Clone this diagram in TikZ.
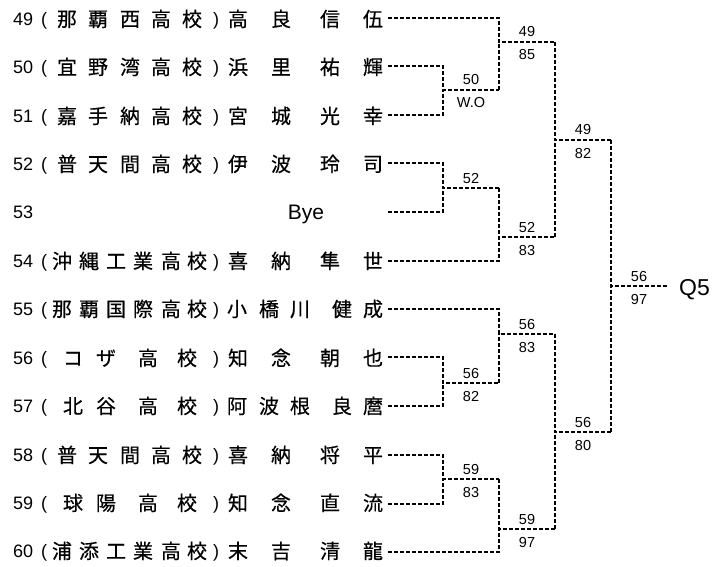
\documentclass[tikz,border=0pt]{standalone}
\usepackage{fontspec}
\setmainfont{Liberation Sans}
\newfontfamily\jp[FakeBold=0.4]{Noto Sans CJK JP}
\newcommand\entry[7]{%
  \node[num] (n#2) at (13,#1+6.5) {#2};
  \node[num,anchor=base] (lp#2) at (44,#1+6.5) {(};
  \node[num,anchor=base] (rp#2) at (216,#1+6.5) {)};
  \foreach \c [count=\i] in {#4} {\pgfmathsetmacro\xx{{#3}[\i-1]}\node[cj] (s#2-\i) at (\xx,#1+7.5) {\c};}
  \foreach \c [count=\i] in {#6} {\pgfmathsetmacro\xx{{#5}[\i-1]}\node[cj] (w#2-\i) at (\xx,#1+7.5) {\c};}
  \coordinate (p#2) at (388,#7);
}
\newcommand\score[5]{%
  \node[lab] (#1a) at (#2,#3-5) {#4};
  \node[lab] (#1b) at (#2,#3+18) {#5};
}
\begin{document}
\begin{tikzpicture}[x=1pt,y=-1pt,
  cj/.style={inner sep=0,anchor=base,font=\jp\fontsize{20}{20}\selectfont},
  num/.style={inner sep=0,anchor=base west,font=\fontsize{18}{18}\selectfont},
  lab/.style={inner sep=0,anchor=base,font=\fontsize{14.5}{14.5}\selectfont},
  br/.style={line width=1.4pt,dash pattern=on 4pt off 2pt}]
\useasboundingbox (0,0) rectangle (728,567);
\fill[white] (0,0) rectangle (728,567);

\entry{19}{49}{67,98,130,161,192}{那,覇,西,高,校}{238,281,330,373}{高,良,信,伍}{18}
\entry{67}{50}{67,98,130,161,192}{宜,野,湾,高,校}{238,281,330,373}{浜,里,祐,輝}{66}
\entry{116}{51}{67,98,130,161,192}{嘉,手,納,高,校}{238,281,330,373}{宮,城,光,幸}{115}
\entry{164}{52}{67,98,130,161,192}{普,天,間,高,校}{238,281,330,373}{伊,波,玲,司}{163}
\node[num] (n53) at (13,218.5) {53};
\node[num,anchor=base,font=\fontsize{21}{21}\selectfont] (bye) at (306,219.5) {Bye};
\coordinate (p53) at (388,212);
\entry{261}{54}{62,89,116,143,171,197}{沖,縄,工,業,高,校}{238,281,330,373}{喜,納,隼,世}{261}
\entry{309}{55}{62,89,116,143,171,197}{那,覇,国,際,高,校}{237,269,300,342,373}{小,橋,川,健,成}{309}
\entry{358}{56}{73,106,148,187}{コ,ザ,高,校}{238,281,330,373}{知,念,朝,也}{357}
\entry{406}{57}{73,106,148,187}{北,谷,高,校}{237,269,300,342,373}{阿,波,根,良,麿}{406}
\entry{455}{58}{67,98,130,161,192}{普,天,間,高,校}{238,281,330,373}{喜,納,将,平}{455}
\entry{503}{59}{73,106,148,187}{球,陽,高,校}{238,281,330,373}{知,念,直,流}{504}
\entry{551}{60}{62,89,116,143,171,197}{浦,添,工,業,高,校}{238,281,330,373}{末,吉,清,龍}{552}

% junctions
\coordinate (j1) at (443,90);  \coordinate (j1o) at (499,90);
\coordinate (j2) at (443,188); \coordinate (j2o) at (499,188);
\coordinate (j3) at (443,383); \coordinate (j3o) at (499,383);
\coordinate (j4) at (443,479); \coordinate (j4o) at (499,479);
\coordinate (j5) at (499,42);  \coordinate (j5o) at (555,42);
\coordinate (j6) at (499,237); \coordinate (j6o) at (555,237);
\coordinate (j7) at (499,334); \coordinate (j7o) at (555,334);
\coordinate (j8) at (499,529); \coordinate (j8o) at (555,529);
\coordinate (j9) at (555,140); \coordinate (j9o) at (611,140);
\coordinate (j10) at (555,432); \coordinate (j10o) at (611,432);
\coordinate (j11) at (611,286); \coordinate (fin) at (667,286);

\draw[br] (p50) -| (j1) -- (j1o); \draw[br] (p51) -| (j1);
\draw[br] (p52) -| (j2) -- (j2o); \draw[br] (p53) -| (j2);
\draw[br] (p56) -| (j3) -- (j3o); \draw[br] (p57) -| (j3);
\draw[br] (p58) -| (j4) -- (j4o); \draw[br] (p59) -| (j4);
\draw[br] (p49) -| (j5) -- (j5o); \draw[br] (j1o) -- (j5);
\draw[br] (p54) -| (j6) -- (j6o); \draw[br] (j2o) -- (j6);
\draw[br] (p55) -| (j7) -- (j7o); \draw[br] (j3o) -- (j7);
\draw[br] (p60) -| (j8) -- (j8o); \draw[br] (j4o) -- (j8);
\draw[br] (j5o) -- (j9) -- (j9o); \draw[br] (j6o) -- (j9);
\draw[br] (j7o) -- (j10) -- (j10o); \draw[br] (j8o) -- (j10);
\draw[br] (j9o) -- (j11) -- (fin); \draw[br] (j10o) -- (j11);

\score{k1}{471}{90}{50}{W.O}
\node[lab] (k2a) at (471,183) {52};
\score{k3}{471}{383}{56}{82}
\score{k4}{471}{479}{59}{83}
\score{k5}{527}{42}{49}{85}
\score{k6}{527}{237}{52}{83}
\score{k7}{527}{334}{56}{83}
\score{k8}{527}{529}{59}{97}
\score{k9}{583}{140}{49}{82}
\score{k10}{583}{432}{56}{80}
\score{k11}{639}{286}{56}{97}
\node[inner sep=0,anchor=base west,font=\fontsize{23}{23}\selectfont] (q5) at (679,295) {Q5};
\end{tikzpicture}
\end{document}
